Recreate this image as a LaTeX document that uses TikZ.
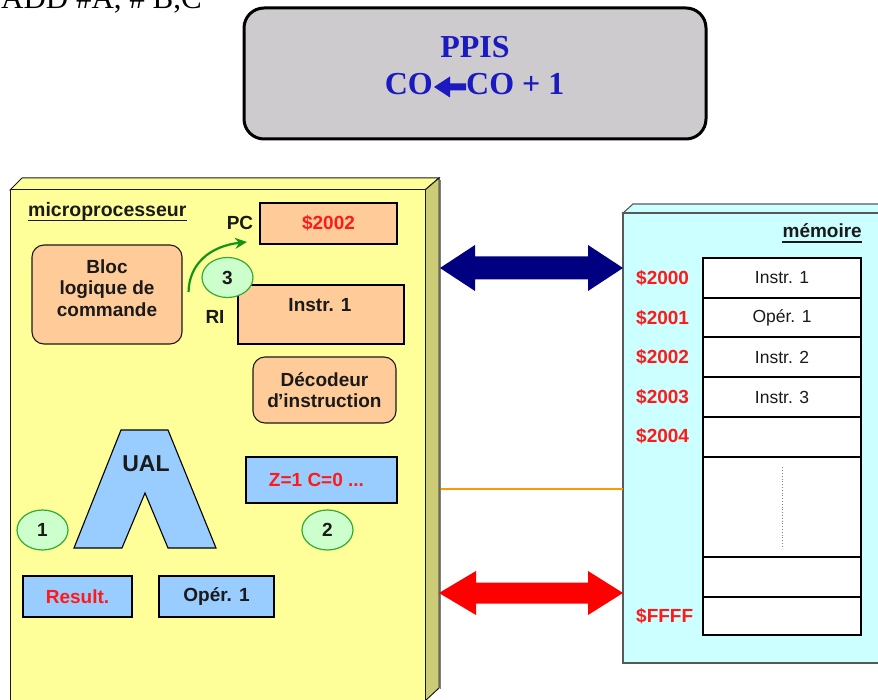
\documentclass[tikz,border=0pt]{standalone}
\usepackage{fontspec}
\setmainfont{Liberation Serif}
\setsansfont{Liberation Sans}
\usetikzlibrary{shapes.geometric,arrows.meta}

\definecolor{cpuyellow}{HTML}{FFFF99}
\definecolor{cpuside}{HTML}{CCCC77}
\definecolor{peach}{HTML}{FFCC99}
\definecolor{regblue}{HTML}{99CCFF}
\definecolor{stepfill}{HTML}{CCFFCC}
\definecolor{stepline}{HTML}{33AA33}
\definecolor{memcyan}{HTML}{CCFFFF}
\definecolor{titlegray}{HTML}{CDCBCD}
\definecolor{titleblue}{HTML}{1A1AC0}
\definecolor{busnavy}{HTML}{000080}
\definecolor{busorange}{HTML}{FF9900}
\definecolor{addrred}{HTML}{FF1A1A}
\definecolor{txt}{HTML}{1A1A1A}
\definecolor{arrowgreen}{HTML}{149414}

\tikzset{
  boldlbl/.style={font=\fontsize{19}{21.5}\selectfont\sffamily\bfseries, text=txt, inner sep=0pt, align=center},
  cell/.style={draw=black, line width=1.1pt, fill=white, minimum width=158, inner sep=0pt,
               font=\fontsize{17.5}{20}\selectfont\sffamily, text=txt},
  addr/.style={font=\fontsize{19}{21}\selectfont\sffamily\bfseries, text=addrred, anchor=west, inner sep=0pt},
  reg/.style={draw=black, line width=1.1pt, inner sep=0pt},
  softbox/.style={draw=txt, line width=1.1pt, fill=peach, rounded corners=12, inner sep=0pt},
  stepmark/.style={ellipse, draw=stepline, line width=1.2pt, fill=stepfill, minimum width=51, minimum height=40,
               inner sep=0pt, font=\fontsize{19}{21}\selectfont\sffamily\bfseries, text=txt},
  titletext/.style={font=\fontsize{32}{34}\selectfont\bfseries, text=titleblue, inner sep=0pt},
}

\begin{document}
\begin{tikzpicture}[x=1pt,y=-1pt]
\useasboundingbox (0,0) rectangle (878,700);
\clip (0,0) rectangle (878,700);

% instruction line at the very top (runs past the upper edge)
\node[font=\fontsize{31}{34}\selectfont, text=black, anchor=base west, inner sep=0pt]
  (instr) at (1,8.5) {ADD \#A, \# B,C};

% title box: micro-operation
\node[draw=black, line width=3pt, fill=titlegray, rounded corners=20,
      minimum width=462, minimum height=131, inner sep=0pt] (title) at (475,73.5) {};
\node[titletext, anchor=base] (ppis) at (475,58) {PPIS};
\node[titletext, anchor=base east] (coa) at (433,95) {CO};
\node[titletext, anchor=base west] (cob) at (466,95) {CO + 1};
\fill[titleblue] (coa.base east |- 0,87) ++(1,0) -- (450,76.5) -- (450,83.5) -- (466,83.5) -- (466,90.5)
  -- (450,90.5) -- (450,97.5) -- cycle;

% microprocessor block (front, top and side faces)
\filldraw[fill=cpuyellow, draw=txt, line width=1pt] (10,190) -- (22,178) -- (439,178) -- (425,190) -- cycle;
\filldraw[fill=cpuside, draw=txt, line width=1pt] (425,190) -- (439,178) -- (439,688) -- (425,701) -- cycle;
\draw[gray, line width=1pt] (440.5,180) -- (440.5,689);
\filldraw[fill=cpuyellow, draw=txt, line width=1pt] (10,190) rectangle (425,710);

\node[font=\fontsize{19.5}{21}\selectfont\sffamily\bfseries, text=txt, anchor=base west, inner sep=0pt]
  (cpu) at (28,216.5) {microprocesseur};
\draw[txt, line width=1.4pt] ([yshift=-4]cpu.base west) -- ([yshift=-4]cpu.base east);

% registers
\node[boldlbl] (pclbl) at (240,223) {PC};
\node[reg, fill=peach, minimum width=137, minimum height=41,
      font=\fontsize{19}{21}\selectfont\sffamily\bfseries, text=addrred] (pc) at (328.5,223.5) {\$2002};

\node[softbox, minimum width=150, minimum height=99] (bloc) at (107,294.5) {};
\node[boldlbl] (bloctxt) at (107,288) {Bloc\\logique de\\commande};

\node[boldlbl] (rilbl) at (215,317) {RI};
\node[reg, fill=peach, minimum width=166, minimum height=59] (ri) at (321,314.5) {};
\node[boldlbl] (ritxt) at (320,305) {Instr. 1};

\node[softbox, minimum width=143, minimum height=66, boldlbl] (dec) at (324.5,390) {D\'ecodeur\\d\kern-0.05em'instruction};

% arithmetic and logic unit
\filldraw[fill=regblue, draw=black, line width=1.1pt]
  (121,430) -- (168,430) -- (216,548) -- (168,548) -- (145,493) -- (122,548) -- (74,548) -- cycle;
\node[font=\fontsize{23}{25}\selectfont\sffamily\bfseries, text=txt, inner sep=0pt] (ual) at (146,464) {UAL};

\node[reg, fill=regblue, minimum width=151, minimum height=46,
      font=\fontsize{19}{21}\selectfont\sffamily\bfseries, text=addrred] (flags) at (321.5,480) {\hspace*{-10pt}Z=1 C=0 ...};

\node[reg, fill=regblue, minimum width=109, minimum height=41,
      font=\fontsize{19}{21}\selectfont\sffamily\bfseries, text=addrred] (res) at (77.5,596.5) {Result.};
\node[reg, fill=regblue, minimum width=115, minimum height=41,
      font=\fontsize{19}{21}\selectfont\sffamily\bfseries, text=txt] (oper) at (216.5,596.5) {Op\'er. 1};

% step 3: program counter update
\coordinate (gstart) at ([xshift=6]bloc.east |- 0,292);
\coordinate (gend) at (247,242);
\draw[arrowgreen, line width=2.2pt, -{Stealth[length=12pt, width=11pt]}]
  (gstart) .. controls (189,264) and (210,246) .. (gend);

\node[stepmark] (s3) at (227.5,277.5) {3};
\node[stepmark] (s1) at (42.5,530) {1};
\node[stepmark] (s2) at (327.5,530) {2};

% memory block
\filldraw[fill=memcyan, draw=black!65, line width=1.1pt] (623,213) -- (633,204) -- (890,204) -- (890,213) -- cycle;
\filldraw[fill=memcyan, draw=black!65, line width=1.1pt] (623,213) rectangle (890,663);
\node[font=\fontsize{19}{21}\selectfont\sffamily\bfseries, text=txt, anchor=base east, inner sep=0pt]
  (mem) at (862,238) {m\'emoire};
\draw[txt, line width=1.4pt] ([yshift=-4]mem.base west) -- ([yshift=-4]mem.base east);

\node[cell, minimum height=40] (m0) at (782,278) {Instr. 1};
\node[cell, minimum height=39] (m1) at (782,317.5) {Op\'er. 1};
\node[cell, minimum height=40] (m2) at (782,357) {Instr. 2};
\node[cell, minimum height=40] (m3) at (782,397) {Instr. 3};
\node[cell, minimum height=40] (m4) at (782,437) {};
\node[cell, minimum height=100] (mgap) at (782,507) {};
\node[cell, minimum height=40] (m5) at (782,577) {};
\node[cell, minimum height=38] (mlast) at (782,616) {};
\draw[gray, line width=0.8pt, dotted] ([yshift=-11]mgap.north) -- ([yshift=11]mgap.south);

\node[addr] (a0) at (636,278) {\$2000};
\node[addr] (a1) at (636,318) {\$2001};
\node[addr] (a2) at (636,357) {\$2002};
\node[addr] (a3) at (636,397) {\$2003};
\node[addr] (a4) at (636,436) {\$2004};
\node[addr] (a5) at (636,616) {\$FFFF};

% buses between processor and memory
\fill[busnavy] (440,268) -- (475,245) -- (475,256.5) -- (588,256.5) -- (588,245) -- (623,268)
  -- (588,291) -- (588,279.5) -- (475,279.5) -- (475,291) -- cycle;
\draw[busorange, line width=2.5pt] (441,489) -- (623,489);
\fill[red] (439,593) -- (476,571) -- (476,582.5) -- (588,582.5) -- (588,571) -- (623,593)
  -- (588,615) -- (588,603.5) -- (476,603.5) -- (476,615) -- cycle;
\end{tikzpicture}
\end{document}
